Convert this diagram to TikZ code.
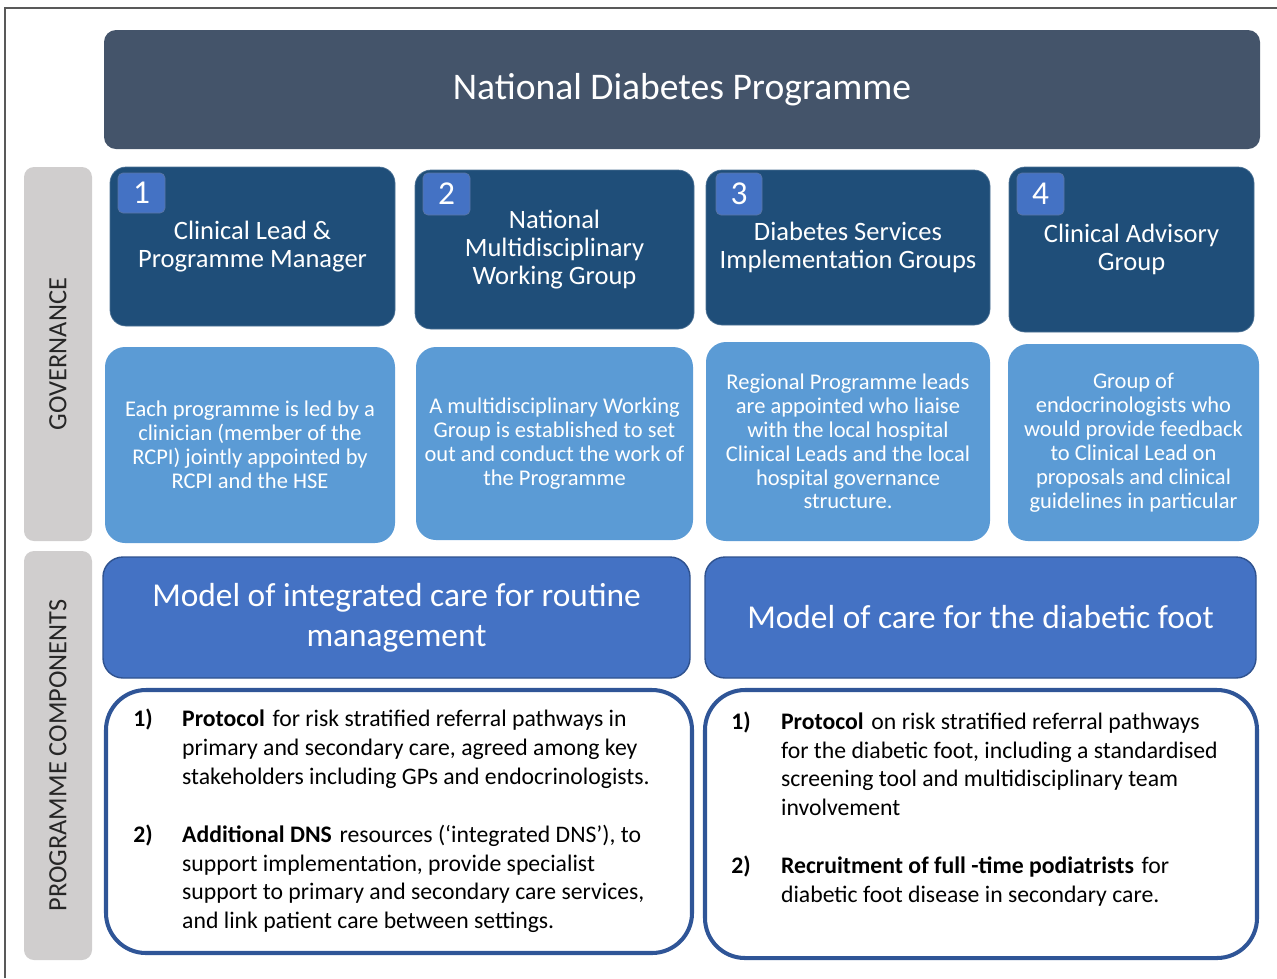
\documentclass[tikz,border=0pt]{standalone}
\usepackage{fontspec}
\setmainfont{Carlito}

\definecolor{slate}{HTML}{44546A}
\definecolor{navy}{HTML}{1F4E79}
\definecolor{midblue}{HTML}{4472C4}
\definecolor{edgeblue}{HTML}{2F528F}
\definecolor{skyblue}{HTML}{5B9BD5}
\definecolor{bargrey}{HTML}{D0CECE}
\definecolor{listblue}{HTML}{2F5597}

\begin{document}
\begin{tikzpicture}[x=0.02cm, y=-0.02cm,
    size/.style 2 args={minimum width=#1*0.02cm, minimum height=#2*0.02cm},
    box/.style={inner sep=0pt, text=white, align=center},
    sidebar/.style={box, fill=bargrey, rounded corners=0.2cm},
    sidelabel/.style={rotate=90, text=black!85, font=\fontsize{15pt}{18pt}\selectfont},
    headbox/.style={box, fill=navy, draw=navy!80!white, rounded corners=0.32cm,
        font=\fontsize{15.1pt}{15.9pt}\selectfont},
    badge/.style={box, fill=midblue, draw=edgeblue!80, rounded corners=0.1cm,
        font=\fontsize{19pt}{20pt}\selectfont},
    infobox/.style={box, fill=skyblue, rounded corners=0.4cm,
        font=\fontsize{12.8pt}{13.6pt}\selectfont},
    modelbox/.style={box, fill=midblue, draw=edgeblue, thick, rounded corners=0.4cm,
        font=\fontsize{19pt}{22.7pt}\selectfont},
    listframe/.style={inner sep=0pt, draw=listblue, line width=2.3pt, rounded corners=0.8cm},
    listtext/.style={inner sep=0pt, anchor=west, font=\fontsize{13.5pt}{16.4pt}\selectfont}
  ]
  \useasboundingbox (0,0) rectangle (1277,978);
  % frame on the top and left edge
  \draw[black!65, line width=0.8pt] (5,978) -- (5,8) -- (1277,8);

  % title bar
  \node[box, fill=slate, rounded corners=0.24cm, size={1156}{119},
      font=\fontsize{21.4pt}{24pt}\selectfont] (title) at (682,89.5) {National Diabetes Programme};

  % side bars
  \node[sidebar, size={68}{374}] (gov) at (58,354) {};
  \node[sidelabel] (govlabel) at (gov.center) {GOVERNANCE};
  \node[sidebar, size={68}{409}] (comp) at (58,755.5) {};
  \node[sidelabel] (complabel) at (comp.center) {PROGRAMME COMPONENTS};

  % governance groups
  \node[headbox, size={285}{159}] (lead) at (252.5,246.5) {Clinical Lead \&\\Programme Manager};
  \node[headbox, size={279}{159}] (nmwg) at (554.5,249.5) {National\\Multidisciplinary\\Working Group};
  \node[headbox, size={284}{155}] (dsig) at (848,247.5) {Diabetes Services\\Implementation Groups};
  \node[headbox, size={245}{165}] (cag) at (1131.5,249.5) {Clinical Advisory\\Group};

  \node[badge, size={47}{40}] (b1) at (141.5,193) {1};
  \node[badge, size={47}{42}] (b2) at (446.5,194) {2};
  \node[badge, size={46}{42}] (b3) at (739,194) {3};
  \node[badge, size={47}{42}] (b4) at (1040.5,194) {4};

  \node[infobox, size={290}{196}] (leadinfo) at (250,445)
      {Each programme is led by a\\clinician (member of the\\RCPI) jointly appointed by\\RCPI and the HSE};
  \node[infobox, size={277}{193}] (nmwginfo) at (554.5,443.5)
      {A multidisciplinary Working\\Group is established to set\\out and conduct the work of\\the Programme};
  \node[infobox, size={284}{199}] (dsiginfo) at (848,441.5)
      {Regional Programme leads\\are appointed who liaise\\with the local hospital\\Clinical Leads and the local\\hospital governance\\structure.};
  \node[infobox, size={251}{197}] (caginfo) at (1133.5,442.5)
      {Group of\\endocrinologists who\\would provide feedback\\to Clinical Lead on\\proposals and clinical\\guidelines in particular};

  % programme components
  \node[modelbox, size={587}{121}] (routine) at (396.5,617.5) {Model of integrated care for routine\\management};
  \node[modelbox, size={551}{121}] (foot) at (980.5,617.5) {Model of care for the diabetic foot};

  \node[listframe, size={586}{263}] (routinelist) at (399,821.5) {};
  \node[listframe, size={552}{268}] (footlist) at (981,824) {};

  \node[listtext] (routineitems) at (133,822) {%
    \begin{tabular}{@{}p{27.8pt}@{}l@{}}
      \textbf{1)} & \textbf{Protocol}\hspace{0.1em} for risk stratified referral pathways in\\
       & primary and secondary care, agreed among key\\
       & stakeholders including GPs and endocrinologists.\\
       & \\
      \textbf{2)} & \textbf{Additional DNS}\hspace{0.1em} resources (`integrated DNS'), to\\
       & support implementation, provide specialist\\
       & support to primary and secondary care services,\\
       & and link patient care between settings.
    \end{tabular}};
  \node[listtext] (footitems) at (731,810) {%
    \begin{tabular}{@{}p{28.3pt}@{}l@{}}
      \textbf{1)} & \textbf{Protocol}\hspace{0.1em} on risk stratified referral pathways\\
       & for the diabetic foot, including a standardised\\
       & screening tool and multidisciplinary team\\
       & involvement\\
       & \\
      \textbf{2)} & \textbf{Recruitment of full -time podiatrists}\hspace{0.1em} for\\
       & diabetic foot disease in secondary care.
    \end{tabular}};
\end{tikzpicture}
\end{document}
